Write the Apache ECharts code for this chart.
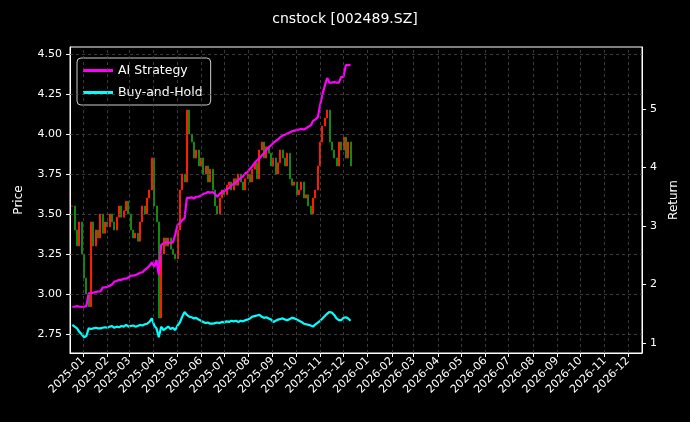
<!DOCTYPE html>
<html><head><meta charset="utf-8">
<script src="https://cdn.jsdelivr.net/npm/echarts@6/dist/echarts.min.js"></script>
<style>html,body{margin:0;background:#000}#c{width:690px;height:422px}</style>
</head><body><div id="c"></div>
<script>
const startDate = '2024-12-18';
const stepDays = 3;
const closes = [3.55,3.40,3.30,3.45,3.25, 3.10,3.00,2.92,3.45,3.30, 3.40,3.35,3.50,3.38,3.45, 3.42,3.50,3.45,3.40,3.48,
 3.55,3.48,3.52,3.58,3.50, 3.40,3.35,3.38,3.33,3.45, 3.55,3.50,3.60,3.65,3.85, 3.55,3.45,2.85,3.25,3.35,
 3.30,3.35,3.28,3.25,3.22, 3.40,3.65,3.75,3.70,4.15, 4.00,3.95,3.85,3.90,3.80, 3.85,3.75,3.80,3.70,3.78,
 3.65,3.55,3.50,3.60,3.65, 3.62,3.68,3.70,3.65,3.72, 3.68,3.75,3.70,3.65,3.72, 3.75,3.70,3.78,3.82,3.72,
 3.90,3.95,3.85,3.92,3.88, 3.80,3.85,3.75,3.82,3.90, 3.85,3.80,3.88,3.72,3.68, 3.70,3.62,3.65,3.70,3.60,
 3.62,3.55,3.50,3.60,3.65, 3.80,3.95,4.05,4.10,4.15, 3.95,3.90,3.85,3.80,3.95, 3.90,3.98,3.85,3.95,3.80];
const strategy = [1.62,1.62,1.63,1.62,1.62, 1.62,1.63,1.85,1.85,1.86, 1.87,1.88,1.88,1.95,1.95, 1.96,1.98,2.00,2.05,2.06,
 2.08,2.08,2.10,2.10,2.12, 2.15,2.15,2.16,2.18,2.20, 2.21,2.25,2.28,2.32,2.38, 2.30,2.42,2.16,2.68,2.70,
 2.72,2.72,2.71,2.72,2.85, 3.02,3.05,3.10,3.13,3.48, 3.48,3.49,3.47,3.50,3.50, 3.52,3.55,3.56,3.58,3.57,
 3.58,3.55,3.50,3.55,3.58, 3.60,3.62,3.65,3.70,3.72, 3.75,3.78,3.82,3.85,3.90, 3.92,3.98,4.02,4.08,4.12,
 4.16,4.20,4.25,4.30,4.35, 4.38,4.42,4.45,4.48,4.52, 4.55,4.56,4.58,4.60,4.62, 4.63,4.64,4.65,4.66,4.65,
 4.67,4.70,4.72,4.80,4.82, 4.86,5.07,5.25,5.40,5.53, 5.45,5.45,5.46,5.45,5.45, 5.55,5.55,5.75,5.75,5.75];
const buyHold = [1.31,1.28,1.25,1.19,1.15, 1.10,1.12,1.25,1.24,1.25, 1.26,1.25,1.25,1.26,1.27, 1.26,1.28,1.29,1.26,1.28,
 1.27,1.29,1.28,1.31,1.28, 1.29,1.30,1.28,1.29,1.31, 1.30,1.32,1.33,1.36,1.42, 1.30,1.25,1.10,1.28,1.22,
 1.25,1.28,1.24,1.26,1.22, 1.30,1.35,1.45,1.53,1.48, 1.45,1.44,1.42,1.43,1.40, 1.38,1.36,1.34,1.35,1.33,
 1.33,1.34,1.35,1.34,1.36, 1.35,1.37,1.36,1.38,1.37, 1.38,1.36,1.38,1.37,1.39, 1.40,1.42,1.45,1.46,1.47,
 1.48,1.45,1.43,1.44,1.42, 1.40,1.36,1.38,1.40,1.41, 1.42,1.40,1.39,1.41,1.43, 1.42,1.40,1.38,1.36,1.33,
 1.32,1.31,1.30,1.28,1.32, 1.35,1.38,1.42,1.46,1.50, 1.53,1.52,1.48,1.42,1.39, 1.39,1.43,1.44,1.42,1.38];
const priceTicks = [2.75,3.00,3.25,3.50,3.75,4.00,4.25,4.50];
const returnTicks = [1,2,3,4,5];
const monthTicks = [];
for (let y=2025;y<=2026;y++) for (let m=1;m<=12;m++) monthTicks.push(y+'-'+String(m).padStart(2,'0')+'-01');

const t0 = Date.parse(startDate+'T00:00:00Z');
const dates = closes.map((_,i)=>t0+i*stepDays*86400000);
const candles = closes.map((c,i)=>{const o = i? closes[i-1]:c; return [dates[i], o, c, Math.min(o,c), Math.max(o,c)];});
const monthTs = monthTicks.map(s=>Date.parse(s+'T00:00:00Z'));
const gridStyle = {color:'#4a4a4a',type:[3,3],width:0.8};

const chart = echarts.init(document.getElementById('c'), null, {renderer:'canvas'});
chart.setOption({
  backgroundColor:'#000',
  animation:false,
  textStyle:{fontFamily:'DejaVu Sans'},
  title:{text:'cnstock [002489.SZ]',left:'center',top:7,textStyle:{color:'#fff',fontSize:14,fontWeight:'normal',fontFamily:'DejaVu Sans'}},
  grid:{left:70,right:48,top:47,bottom:69,show:true,borderColor:'#fff',borderWidth:1,backgroundColor:'transparent'},
  legend:{left:77,top:58,orient:'vertical',itemWidth:30,itemHeight:3,itemGap:9,padding:[6,8,6,6],
    backgroundColor:'#000',borderColor:'#ccc',borderWidth:1,borderRadius:4,
    textStyle:{color:'#fff',fontSize:12.5},data:[{name:'AI Strategy',icon:'rect'},{name:'Buy-and-Hold',icon:'rect'}]},
  xAxis:{type:'value',min:Date.parse('2024-12-15T00:00:00Z'),max:Date.parse('2026-12-19T00:00:00Z'),
    axisLine:{lineStyle:{color:'#fff'}},splitLine:{show:false},
    axisTick:{customValues:monthTs,lineStyle:{color:'#fff'},length:4},
    axisLabel:{customValues:monthTs,rotate:45,color:'#fff',fontSize:11,margin:6,
      formatter:v=>{const d=new Date(v);return d.getUTCFullYear()+'-'+String(d.getUTCMonth()+1).padStart(2,'0');}}},
  yAxis:[
    {type:'value',min:2.631,max:4.544,name:'Price',nameLocation:'middle',nameGap:45,nameRotate:90,nameTextStyle:{color:'#fff',fontSize:12},
     axisLine:{show:true,lineStyle:{color:'#fff'}},splitLine:{show:false},
     axisTick:{show:true,customValues:priceTicks,lineStyle:{color:'#fff'},length:4},
     axisLabel:{customValues:priceTicks,color:'#fff',fontSize:11,formatter:v=>v.toFixed(2)}},
    {type:'value',min:0.829,max:6.06,name:'Return',nameLocation:'middle',nameGap:26,nameRotate:90,nameTextStyle:{color:'#fff',fontSize:12},
     axisLine:{show:true,lineStyle:{color:'#fff'}},splitLine:{show:false},
     axisTick:{show:true,customValues:returnTicks,lineStyle:{color:'#fff'},length:4},
     axisLabel:{customValues:returnTicks,color:'#fff',fontSize:11}}
  ],
  series:[
    {type:'candlestick',name:'Price',yAxisIndex:0,data:candles,barWidth:1.5,barMaxWidth:1.5,
     itemStyle:{color:'#ff1a00',color0:'#128a12',borderColor:'#ff1a00',borderColor0:'#128a12',borderWidth:1},
     markLine:{silent:true,symbol:'none',label:{show:false},lineStyle:gridStyle,
       data:[...priceTicks.map(v=>({yAxis:v})),...monthTs.map(v=>({xAxis:v}))]}},
    {type:'line',name:'AI Strategy',yAxisIndex:1,data:dates.map((d,i)=>[d,strategy[i]]),showSymbol:false,
     lineStyle:{color:'#ff00ff',width:2.2},itemStyle:{color:'#ff00ff'}},
    {type:'line',name:'Buy-and-Hold',yAxisIndex:1,data:dates.map((d,i)=>[d,buyHold[i]]),showSymbol:false,
     lineStyle:{color:'#00ffff',width:2.2},itemStyle:{color:'#00ffff'}}
  ]
});
</script></body></html>
